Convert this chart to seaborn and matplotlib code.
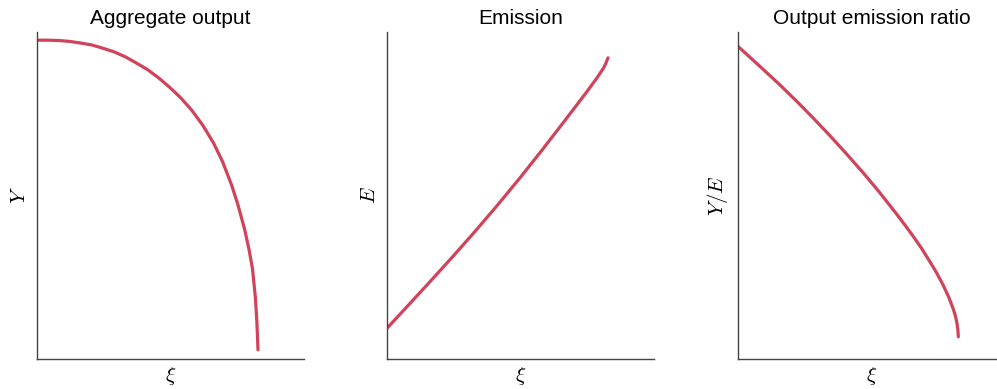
import numpy as np
import pandas as pd
import matplotlib
matplotlib.use("Agg")
import matplotlib.pyplot as plt
import seaborn as sns

# ---- data (normalized units) ----
xi_output = [0, 0.05, 0.10, 0.15, 0.20, 0.25, 0.30, 0.35, 0.40, 0.45, 0.50,
             0.55, 0.60, 0.65, 0.70, 0.75, 0.80, 0.84, 0.88, 0.91, 0.94,
             0.96, 0.975, 0.988, 0.995, 1.0]
Y_output = [0.975, 0.975, 0.974, 0.971, 0.966, 0.960, 0.950, 0.939, 0.924,
            0.905, 0.885, 0.860, 0.831, 0.799, 0.761, 0.715, 0.659, 0.603,
            0.533, 0.470, 0.395, 0.333, 0.276, 0.189, 0.113, 0.028]

xi_emission = [0, 0.1, 0.2, 0.3, 0.4, 0.5, 0.6, 0.7, 0.8, 0.9, 0.95, 0.98,
               0.99, 1.0]
E_emission = [0.094, 0.167, 0.2405, 0.315, 0.3915, 0.4705, 0.5525, 0.6375,
              0.725, 0.8135, 0.8595, 0.890, 0.904, 0.921]

xi_ratio = [0, 0.115, 0.19, 0.266, 0.34, 0.416, 0.49, 0.567, 0.64, 0.718,
            0.755, 0.793, 0.83, 0.869, 0.9, 0.929, 0.955, 0.974, 0.984,
            0.991, 0.995, 0.997]
YE_ratio = [0.956, 0.885, 0.838, 0.788, 0.737, 0.683, 0.628, 0.569, 0.510,
            0.443, 0.410, 0.375, 0.339, 0.297, 0.262, 0.225, 0.187, 0.153,
            0.131, 0.109, 0.088, 0.068]

titles = ["Aggregate output", "Emission", "Output emission ratio"]
ylabels = [r"$Y$", r"$E$", r"$Y/E$"]
xlabel = r"$\xi$"

sns.set_theme(style="white")
plt.rcParams["font.family"] = ["Liberation Sans", "DejaVu Sans"]
plt.rcParams["mathtext.fontset"] = "cm"
plt.rcParams["text.color"] = "black"
plt.rcParams["axes.labelcolor"] = "black"

line_color = "#d0435a"

fig = plt.figure(figsize=(9.97, 3.89), dpi=100)
W, H = 997.0, 389.0
lefts = [37, 387, 738]
ax_w = 267 / W
ax_b = (H - 359) / H
ax_h = 327 / H

datasets = [(xi_output, Y_output), (xi_emission, E_emission), (xi_ratio, YE_ratio)]

for i, (xs, ys) in enumerate(datasets):
    ax = fig.add_axes([lefts[i] / W, ax_b, ax_w, ax_h])
    df = pd.DataFrame({"xi": xs, "val": ys})
    sns.lineplot(data=df, x="xi", y="val", ax=ax, color=line_color,
                 linewidth=2.3, sort=False, estimator=None)
    ax.set_xlim(0, 267 / 221)
    ax.set_ylim(0, 1)
    ax.set_xticks([])
    ax.set_yticks([])
    ax.set_title(titles[i], fontsize=15, pad=6, color="black")
    ax.set_xlabel(xlabel, fontsize=15, labelpad=4, color="black")
    ax.set_ylabel(ylabels[i], fontsize=15, labelpad=6, color="black")
    for s in ["top", "right"]:
        ax.spines[s].set_visible(False)
    for s in ["left", "bottom"]:
        ax.spines[s].set_color("#444444")
        ax.spines[s].set_linewidth(1.0)

fig.savefig("out.png", dpi=100)
